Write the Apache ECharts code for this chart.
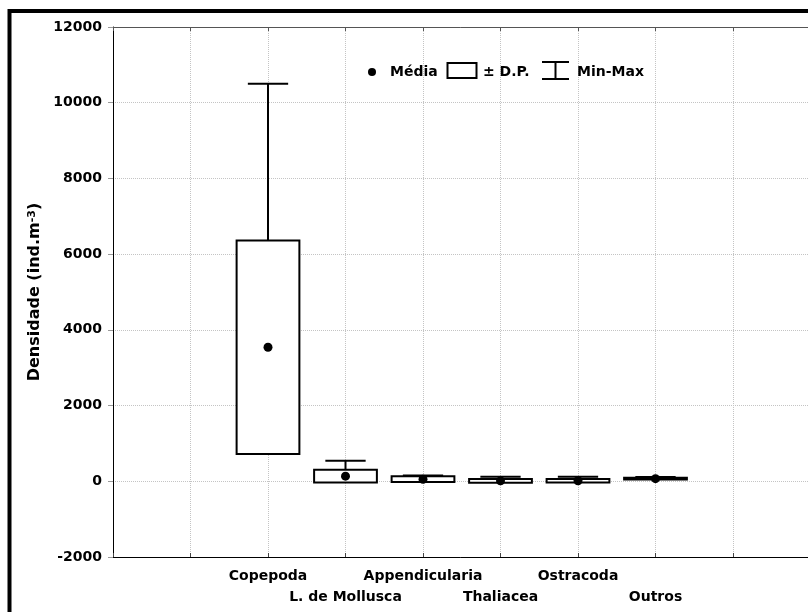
<!DOCTYPE html>
<html>
<head>
<meta charset="utf-8">
<style>
  html, body { margin: 0; padding: 0; background: #ffffff; }
  #chart { width: 808px; height: 612px; }
</style>
<script src="https://cdn.jsdelivr.net/npm/echarts@6/dist/echarts.min.js"></script>
</head>
<body>
<div id="chart"></div>
<script>
// Zooplankton density by group: mean, ± standard deviation, min–max
const categories = ['Copepoda', 'L. de Mollusca', 'Appendicularia', 'Thaliacea', 'Ostracoda', 'Outros'];
const means = [3540, 135, 55, 12, 15, 70];
const stdDevs = [2820, 170, 75, 48, 45, 25];
const minima = [720, 0, 0, 0, 0, 45];
const maxima = [10500, 540, 150, 120, 120, 110];
const yTicks = [-2000, 0, 2000, 4000, 6000, 8000, 10000, 12000];

// categories sit at x = 2..7 on a 0..9 scale (empty slots at both ends)
const firstSlot = 2;
const boxData = categories.map((c, i) => [i + firstSlot, means[i], stdDevs[i], minima[i], maxima[i]]);
const meanData = categories.map((c, i) => [i + firstSlot, means[i]]);

const FONT = '"DejaVu Sans", sans-serif';
const gridColor = '#c4c4c4';

function renderBox(params, api) {
  const x = api.value(0), mean = api.value(1), sd = api.value(2), mn = api.value(3), mx = api.value(4);
  const cx = api.coord([x, mean])[0];
  const yTop = api.coord([x, mean + sd])[1];
  const yBot = api.coord([x, mean - sd])[1];
  const unit = api.size([1, 0])[0];
  const bw = unit * 0.81, cw = unit * 0.52;
  const lineStyle = { stroke: '#000', lineWidth: 2 };
  const children = [];
  if (mx > mean + sd) {
    const yMax = api.coord([x, mx])[1];
    children.push({ type: 'line', shape: { x1: cx, y1: yTop, x2: cx, y2: yMax }, style: lineStyle });
    children.push({ type: 'line', shape: { x1: cx - cw / 2, y1: yMax, x2: cx + cw / 2, y2: yMax }, style: lineStyle });
  }
  if (mn < mean - sd) {
    const yMin = api.coord([x, mn])[1];
    children.push({ type: 'line', shape: { x1: cx, y1: yBot, x2: cx, y2: yMin }, style: lineStyle });
    children.push({ type: 'line', shape: { x1: cx - cw / 2, y1: yMin, x2: cx + cw / 2, y2: yMin }, style: lineStyle });
  }
  children.push({
    type: 'rect',
    shape: { x: cx - bw / 2, y: yTop, width: bw, height: yBot - yTop },
    style: { fill: '#fff', stroke: '#000', lineWidth: 2 }
  });
  return { type: 'group', children: children };
}

const chart = echarts.init(document.getElementById('chart'), null, { renderer: 'canvas' });

const legendY = 72;
const legendFont = 'bold 14px ' + FONT;

chart.setOption({
  animation: false,
  backgroundColor: '#ffffff',
  grid: { left: 113, top: 27, width: 697.5, height: 530, containLabel: false, outerBoundsMode: 'none' },
  xAxis: [
    {
      type: 'value', min: 0, max: 9, interval: 1,
      axisLine: { show: true, onZero: false, lineStyle: { color: '#000', width: 1 } },
      axisTick: { show: true, inside: true, length: 4, lineStyle: { color: '#444' } },
      splitLine: { show: true, lineStyle: { color: gridColor, type: 'dotted', width: 1 } },
      axisLabel: {
        show: true, margin: 9, color: '#000', fontFamily: FONT, fontWeight: 'bold', fontSize: 14, lineHeight: 21,
        showMinLabel: true, showMaxLabel: true,
        formatter: function (v) {
          const i = Math.round(v) - firstSlot;
          if (i < 0 || i >= categories.length) return '';
          return i % 2 === 0 ? categories[i] : '\n' + categories[i];
        }
      }
    },
    {
      type: 'value', position: 'top', min: 0, max: 9, interval: 1,
      axisLine: { show: true, onZero: false, lineStyle: { color: '#555', width: 1 } },
      axisTick: { show: true, inside: true, length: 4, lineStyle: { color: '#555' } },
      axisLabel: { show: false },
      splitLine: { show: false }
    }
  ],
  yAxis: {
    type: 'value', min: yTicks[0], max: yTicks[yTicks.length - 1], interval: 2000,
    axisLine: { show: true, onZero: false, lineStyle: { color: '#000', width: 1 } },
    axisTick: { show: true, inside: false, length: 5, lineStyle: { color: '#999' } },
    splitLine: { show: true, lineStyle: { color: gridColor, type: 'dotted', width: 1 } },
    axisLabel: {
      color: '#000', fontFamily: FONT, fontWeight: 'bold', fontSize: 14, margin: 11,
      formatter: function (v) { return String(v); }
    },
    name: 'Densidade (ind.m{sup|-3})',
    nameLocation: 'middle',
    nameGap: 66,
    nameRotate: 90,
    nameTextStyle: {
      color: '#000', fontFamily: FONT, fontWeight: 'bold', fontSize: 16,
      rich: { sup: { fontFamily: FONT, fontWeight: 'bold', fontSize: 11, verticalAlign: 'top', color: '#000' } }
    }
  },
  series: [
    {
      type: 'custom',
      renderItem: renderBox,
      data: boxData,
      encode: { x: 0, y: [1] },
      z: 3,
      clip: false
    },
    {
      type: 'scatter',
      data: meanData,
      symbol: 'circle',
      symbolSize: 9,
      itemStyle: { color: '#000', opacity: 1 },
      z: 5
    }
  ],
  graphic: [
    // outer frame
    { type: 'rect', shape: { x: 9.5, y: 11, width: 900, height: 700 }, style: { fill: null, stroke: '#000', lineWidth: 4 }, z: 100 },
    // legend: mean
    { type: 'circle', shape: { cx: 372, cy: legendY, r: 4 }, style: { fill: '#000' }, z: 100 },
    { type: 'text', x: 390, y: legendY, style: { text: 'Média', font: legendFont, fill: '#000', textAlign: 'left', textVerticalAlign: 'middle' }, z: 100 },
    // legend: ± SD box
    { type: 'rect', shape: { x: 447.5, y: 63, width: 29, height: 15 }, style: { fill: '#fff', stroke: '#000', lineWidth: 2 }, z: 100 },
    { type: 'text', x: 483, y: legendY, style: { text: '± D.P.', font: legendFont, fill: '#000', textAlign: 'left', textVerticalAlign: 'middle' }, z: 100 },
    // legend: min-max whisker
    { type: 'line', shape: { x1: 542, y1: 62, x2: 569, y2: 62 }, style: { stroke: '#000', lineWidth: 2 }, z: 100 },
    { type: 'line', shape: { x1: 555.5, y1: 62, x2: 555.5, y2: 79 }, style: { stroke: '#000', lineWidth: 2 }, z: 100 },
    { type: 'line', shape: { x1: 542, y1: 79, x2: 569, y2: 79 }, style: { stroke: '#000', lineWidth: 2 }, z: 100 },
    { type: 'text', x: 577, y: legendY, style: { text: 'Min-Max', font: legendFont, fill: '#000', textAlign: 'left', textVerticalAlign: 'middle' }, z: 100 }
  ]
});
</script>
</body>
</html>
